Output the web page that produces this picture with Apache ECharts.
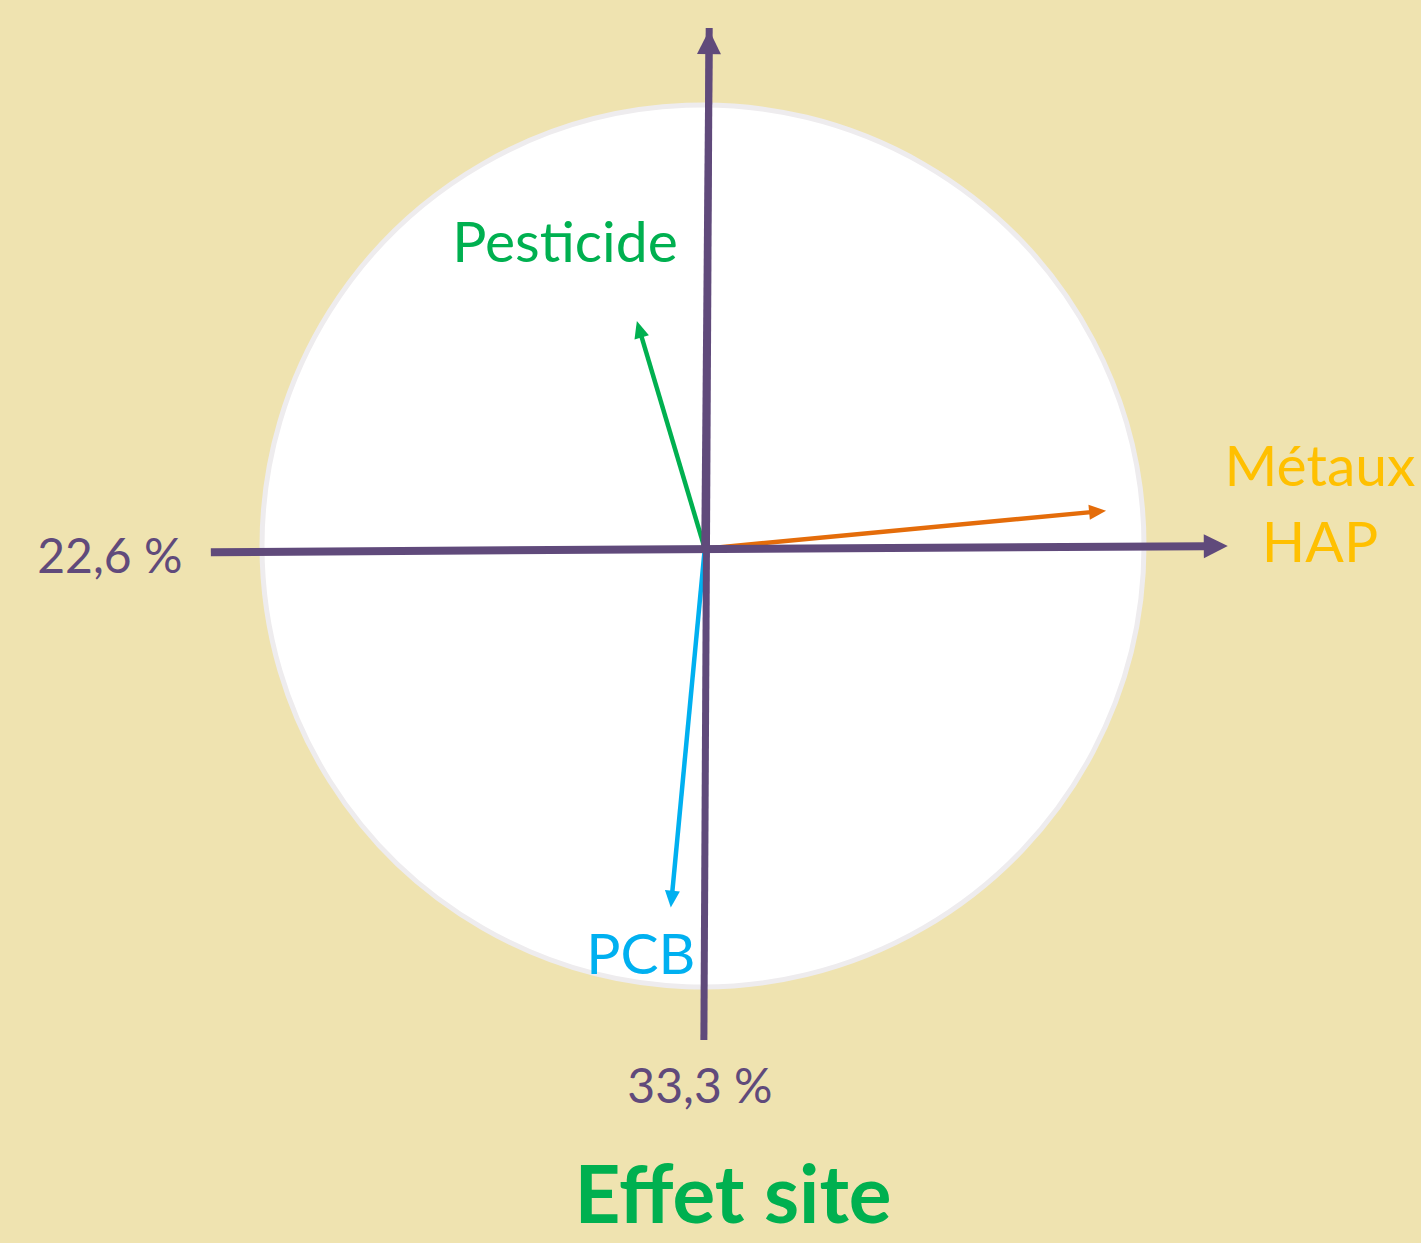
<!DOCTYPE html>
<html>
<head>
<meta charset="utf-8">
<script src="https://cdn.jsdelivr.net/npm/echarts@6/dist/echarts.min.js"></script>
<style>
  html, body { margin: 0; padding: 0; background: #EFE3B0; }
  #chart { width: 1421px; height: 1243px; }
</style>
</head>
<body>
<div id="chart"></div>
<script>
// variables du cercle des corrélations
const variables = ['Pesticide', 'Métaux\nHAP', 'PCB'];
const dim1 = [-0.150, 0.914, -0.073];   // axe horizontal (22,6 %)
const dim2 = [0.510, 0.080, -0.820];    // axe vertical (33,3 %)
const varColors = ['#00B050', '#E46C0A', '#00B0F0'];
const labelColors = ['#00B050', '#FFC000', '#00B0F0'];
// inertie des axes
const axisLabels = ['22,6 %', '33,3 %'];
const title = 'Effet site';

const PURPLE = '#604A7B';
const FONT = 'Lato, "Open Sans", sans-serif';

// une unité = rayon du cercle (441 px), origine à (703, 546)
const UNIT = 441, OX = 703, OY = 546, W = 1421, H = 1243;

let chart = echarts.init(document.getElementById('chart'), null, { renderer: 'svg' });

// flèche : ligne + tête triangulaire
function arrowItem(params, api) {
  let p0 = api.coord([api.value(0), api.value(1)]);
  let p1 = api.coord([api.value(2), api.value(3)]);
  let lw = api.value(4), hl = api.value(5), hw = api.value(6);
  let color = api.visual('color');
  let dx = p1[0] - p0[0], dy = p1[1] - p0[1];
  let len = Math.sqrt(dx * dx + dy * dy);
  let ux = dx / len, uy = dy / len;
  let bx = p1[0] - ux * hl, by = p1[1] - uy * hl;
  let children = [{
    type: 'line',
    shape: { x1: p0[0], y1: p0[1], x2: bx + ux * 2, y2: by + uy * 2 },
    style: { stroke: color, lineWidth: lw }
  }];
  if (hl > 0) {
    children.push({
      type: 'polygon',
      shape: { points: [p1, [bx - uy * hw / 2, by + ux * hw / 2], [bx + uy * hw / 2, by - ux * hw / 2]] },
      style: { fill: color }
    });
  }
  return { type: 'group', children: children };
}

// axes factoriels (x0, y0, x1, y1, épaisseur, longueur tête, largeur tête)
const axesData = [
  [-1.116, -0.014, 1.190, 0.000, 8, 24, 24],
  [0.002, -1.120, 0.014, 1.170, 7, 0, 0],
  [0.004, 0.000, 0.014, 1.170, 7, 24, 24]
];

const vectorData = variables.map((v, i) => ({
  value: [0.004, -0.006, dim1[i], dim2[i], 4.5, 17, 15],
  itemStyle: { color: varColors[i] }
}));

// positions des libellés (unités du cercle)
const labelPos = [[-0.313, 0.694], [1.399, 0.100], [-0.141, -0.921]];
const labelData = variables.map((v, i) => ({
  name: v,
  value: labelPos[i],
  label: { color: labelColors[i] }
}));

const textSeries = (z, data, label) => ({
  type: 'scatter',
  z: z,
  symbolSize: 0,
  itemStyle: { opacity: 1 },
  emphasis: { disabled: true },
  data: data,
  label: Object.assign({
    show: true,
    position: 'inside',
    formatter: '{b}',
    fontFamily: FONT
  }, label)
});

chart.setOption({
  backgroundColor: '#EFE3B0',
  animation: false,
  grid: { left: 0, right: 0, top: 0, bottom: 0 },
  xAxis: { type: 'value', show: false, min: -OX / UNIT, max: (W - OX) / UNIT },
  yAxis: { type: 'value', show: false, min: -(H - OY) / UNIT, max: OY / UNIT },
  series: [
    {
      // cercle de rayon 1
      type: 'custom',
      z: 1,
      data: [[0, 0, 1]],
      renderItem(params, api) {
        let c = api.coord([api.value(0), api.value(1)]);
        let r = api.size([api.value(2), 0])[0];
        return {
          type: 'circle',
          shape: { cx: c[0], cy: c[1], r: r },
          style: { fill: '#FFFFFF', stroke: '#EEECEE', lineWidth: 5 }
        };
      }
    },
    {
      type: 'custom',
      z: 3,
      data: vectorData,
      renderItem: arrowItem
    },
    {
      type: 'custom',
      z: 4,
      itemStyle: { color: PURPLE },
      data: axesData,
      renderItem: arrowItem
    },
    textSeries(5, labelData, { fontSize: 57, lineHeight: 76, align: 'center' }),
    textSeries(5, [
      { name: axisLabels[0], value: [-1.345, -0.020] },
      { name: axisLabels[1], value: [-0.007, -1.222] }
    ], { fontSize: 48, color: PURPLE }),
    textSeries(5, [{ name: title, value: [0.068, -1.465] }],
      { fontWeight: 'bold', fontSize: 80, lineHeight: 70, color: '#00B050' })
  ]
});
</script>
</body>
</html>
